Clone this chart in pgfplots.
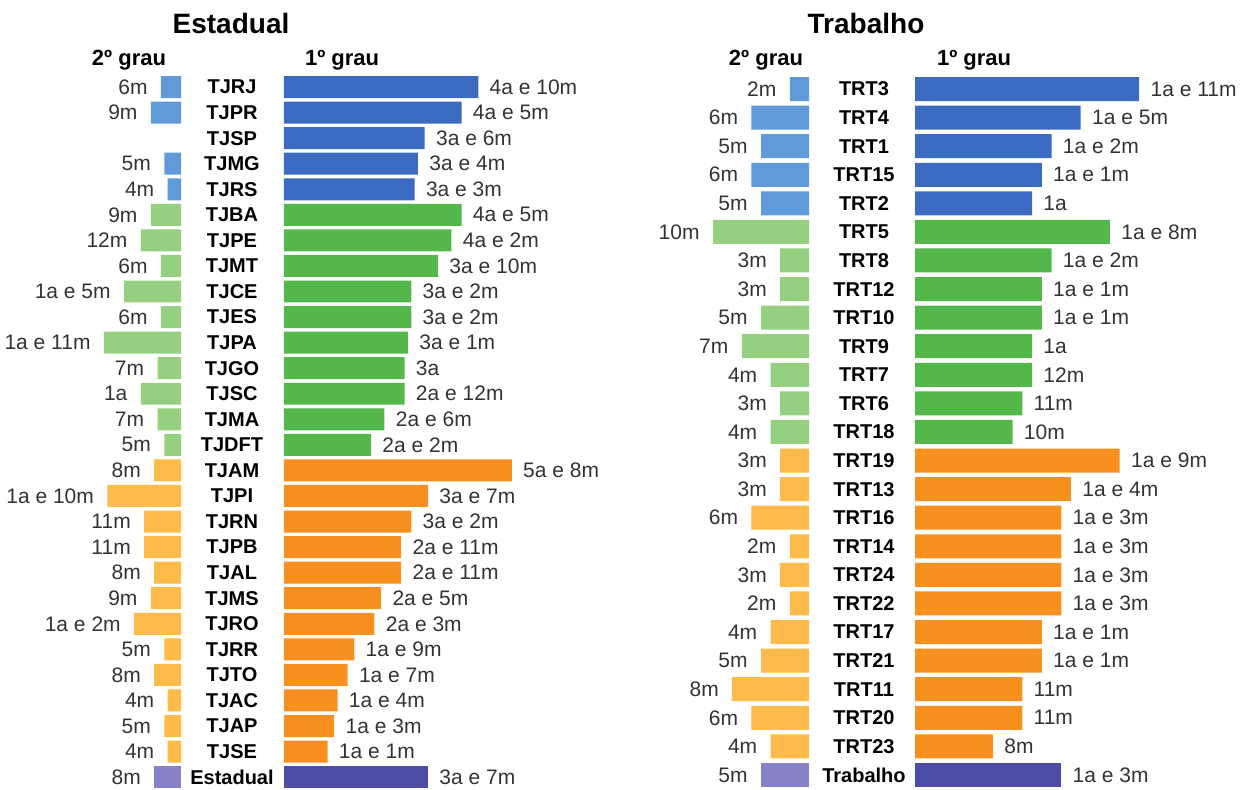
\documentclass[border=0pt]{standalone}
\usepackage{fontspec}
\setmainfont{Liberation Sans}
\usepackage{pgfplots}
\pgfplotsset{compat=1.18}
\definecolor{bA}{HTML}{3B6AC1}
\definecolor{bB}{HTML}{609AD8}
\definecolor{gA}{HTML}{53B849}
\definecolor{gB}{HTML}{94D080}
\definecolor{oA}{HTML}{F7901E}
\definecolor{oB}{HTML}{FDBB4A}
\definecolor{pA}{HTML}{4D4DA6}
\definecolor{pB}{HTML}{8782C8}
\definecolor{vgray}{HTML}{333333}
\pgfplotsset{
  base/.style={
    xbar, bar shift=0pt, scale only axis, clip=false,
    axis line style={draw=none}, tick style={draw=none}, major tick length=0pt,
    xtick=\empty, y dir=reverse, enlargelimits=false,
    nodes near coords, point meta=explicit symbolic,
    every node near coord/.append style={font=\fontsize{10.5}{12}\selectfont, text=vgray, inner sep=0pt},
  },
  first/.style={base, xmin=0,
    every node near coord/.append style={anchor=west, xshift=5.5pt},
    yticklabel style={anchor=center, font=\bfseries\fontsize{10}{12}\selectfont, text=black}},
  second/.style={base, xmax=0, ytick=\empty,
    every node near coord/.append style={anchor=east, xshift=-6.5pt}},
}
\begin{document}
\begin{tikzpicture}[x=0.5pt,y=-0.5pt]
% ---------------- Estadual ----------------
\begin{axis}[first, at={(142pt,-37.11pt)}, anchor=north west,
  width=134pt, height=357.85pt, xmax=80, ymin=-0.5, ymax=27.5, bar width=0.86,
  ytick={0,...,27},
  yticklabels={TJRJ,TJPR,TJSP,TJMG,TJRS,TJBA,TJPE,TJMT,TJCE,TJES,TJPA,TJGO,TJSC,TJMA,TJDFT,TJAM,TJPI,TJRN,TJPB,TJAL,TJMS,TJRO,TJRR,TJTO,TJAC,TJAP,TJSE,Estadual},
  yticklabel style={xshift=-26pt}]
\addplot[fill=bA, draw=none] table[col sep=comma, x=v, y=i, meta=l] {
i,v,l
0,58,4a e 10m
1,53,4a e 5m
2,42,3a e 6m
3,40,3a e 4m
4,39,3a e 3m
};
\addplot[fill=gA, draw=none] table[col sep=comma, x=v, y=i, meta=l] {
i,v,l
5,53,4a e 5m
6,50,4a e 2m
7,46,3a e 10m
8,38,3a e 2m
9,38,3a e 2m
10,37,3a e 1m
11,36,3a
12,36,2a e 12m
13,30,2a e 6m
14,26,2a e 2m
};
\addplot[fill=oA, draw=none] table[col sep=comma, x=v, y=i, meta=l] {
i,v,l
15,68,5a e 8m
16,43,3a e 7m
17,38,3a e 2m
18,35,2a e 11m
19,35,2a e 11m
20,29,2a e 5m
21,27,2a e 3m
22,21,1a e 9m
23,19,1a e 7m
24,16,1a e 4m
25,15,1a e 3m
26,13,1a e 1m
};
\addplot[fill=pA, draw=none] table[col sep=comma, x=v, y=i, meta=l] {
i,v,l
27,43,3a e 7m
};
\end{axis}
\begin{axis}[second, at={(90.5pt,-37.11pt)}, anchor=north east,
  width=50.25pt, height=357.85pt, xmin=-30, ymin=-0.5, ymax=27.5, bar width=0.86]
\addplot[fill=bB, draw=none] table[col sep=comma, x expr=-\thisrow{v}, y=i, meta=l] {
i,v,l
0,6,6m
1,9,9m
3,5,5m
4,4,4m
};
\addplot[fill=gB, draw=none] table[col sep=comma, x expr=-\thisrow{v}, y=i, meta=l] {
i,v,l
5,9,9m
6,12,12m
7,6,6m
8,17,1a e 5m
9,6,6m
10,23,1a e 11m
11,7,7m
12,12,1a
13,7,7m
14,5,5m
};
\addplot[fill=oB, draw=none] table[col sep=comma, x expr=-\thisrow{v}, y=i, meta=l] {
i,v,l
15,8,8m
16,22,1a e 10m
17,11,11m
18,11,11m
19,8,8m
20,9,9m
21,14,1a e 2m
22,5,5m
23,8,8m
24,4,4m
25,5,5m
26,4,4m
};
\addplot[fill=pB, draw=none] table[col sep=comma, x expr=-\thisrow{v}, y=i, meta=l] {
i,v,l
27,8,8m
};
\end{axis}
% ---------------- Trabalho ----------------
\begin{axis}[first, at={(457.5pt,-37.355pt)}, anchor=north west,
  width=146.25pt, height=357.25pt, xmax=30, ymin=-0.5, ymax=24.5, bar width=0.84,
  ytick={0,...,24},
  yticklabels={TRT3,TRT4,TRT1,TRT15,TRT2,TRT5,TRT8,TRT12,TRT10,TRT9,TRT7,TRT6,TRT18,TRT19,TRT13,TRT16,TRT14,TRT24,TRT22,TRT17,TRT21,TRT11,TRT20,TRT23,Trabalho},
  yticklabel style={xshift=-25.5pt}]
\addplot[fill=bA, draw=none] table[col sep=comma, x=v, y=i, meta=l] {
i,v,l
0,23,1a e 11m
1,17,1a e 5m
2,14,1a e 2m
3,13,1a e 1m
4,12,1a
};
\addplot[fill=gA, draw=none] table[col sep=comma, x=v, y=i, meta=l] {
i,v,l
5,20,1a e 8m
6,14,1a e 2m
7,13,1a e 1m
8,13,1a e 1m
9,12,1a
10,12,12m
11,11,11m
12,10,10m
};
\addplot[fill=oA, draw=none] table[col sep=comma, x=v, y=i, meta=l] {
i,v,l
13,21,1a e 9m
14,16,1a e 4m
15,15,1a e 3m
16,15,1a e 3m
17,15,1a e 3m
18,15,1a e 3m
19,13,1a e 1m
20,13,1a e 1m
21,11,11m
22,11,11m
23,8,8m
};
\addplot[fill=pA, draw=none] table[col sep=comma, x=v, y=i, meta=l] {
i,v,l
24,15,1a e 3m
};
\end{axis}
\begin{axis}[second, at={(404.5pt,-37.355pt)}, anchor=north east,
  width=57.6pt, height=357.25pt, xmin=-12, ymin=-0.5, ymax=24.5, bar width=0.84]
\addplot[fill=bB, draw=none] table[col sep=comma, x expr=-\thisrow{v}, y=i, meta=l] {
i,v,l
0,2,2m
1,6,6m
2,5,5m
3,6,6m
4,5,5m
};
\addplot[fill=gB, draw=none] table[col sep=comma, x expr=-\thisrow{v}, y=i, meta=l] {
i,v,l
5,10,10m
6,3,3m
7,3,3m
8,5,5m
9,7,7m
10,4,4m
11,3,3m
12,4,4m
};
\addplot[fill=oB, draw=none] table[col sep=comma, x expr=-\thisrow{v}, y=i, meta=l] {
i,v,l
13,3,3m
14,3,3m
15,6,6m
16,2,2m
17,3,3m
18,2,2m
19,4,4m
20,5,5m
21,8,8m
22,6,6m
23,4,4m
};
\addplot[fill=pB, draw=none] table[col sep=comma, x expr=-\thisrow{v}, y=i, meta=l] {
i,v,l
24,5,5m
};
\end{axis}
% ---------------- headers ----------------
\node[anchor=base, font=\bfseries\fontsize{14}{16}\selectfont] at (231,33) {Estadual};
\node[anchor=base, font=\bfseries\fontsize{11}{13}\selectfont] at (129,65) {2º grau};
\node[anchor=base west, font=\bfseries\fontsize{11}{13}\selectfont] at (298,65) {1º grau};
\node[anchor=base, font=\bfseries\fontsize{14}{16}\selectfont] at (866,33) {Trabalho};
\node[anchor=base, font=\bfseries\fontsize{11}{13}\selectfont] at (766,65) {2º grau};
\node[anchor=base west, font=\bfseries\fontsize{11}{13}\selectfont] at (930,65) {1º grau};
\pgfresetboundingbox
\path[use as bounding box] (0,0) rectangle (1250,789);
\end{tikzpicture}
\end{document}
